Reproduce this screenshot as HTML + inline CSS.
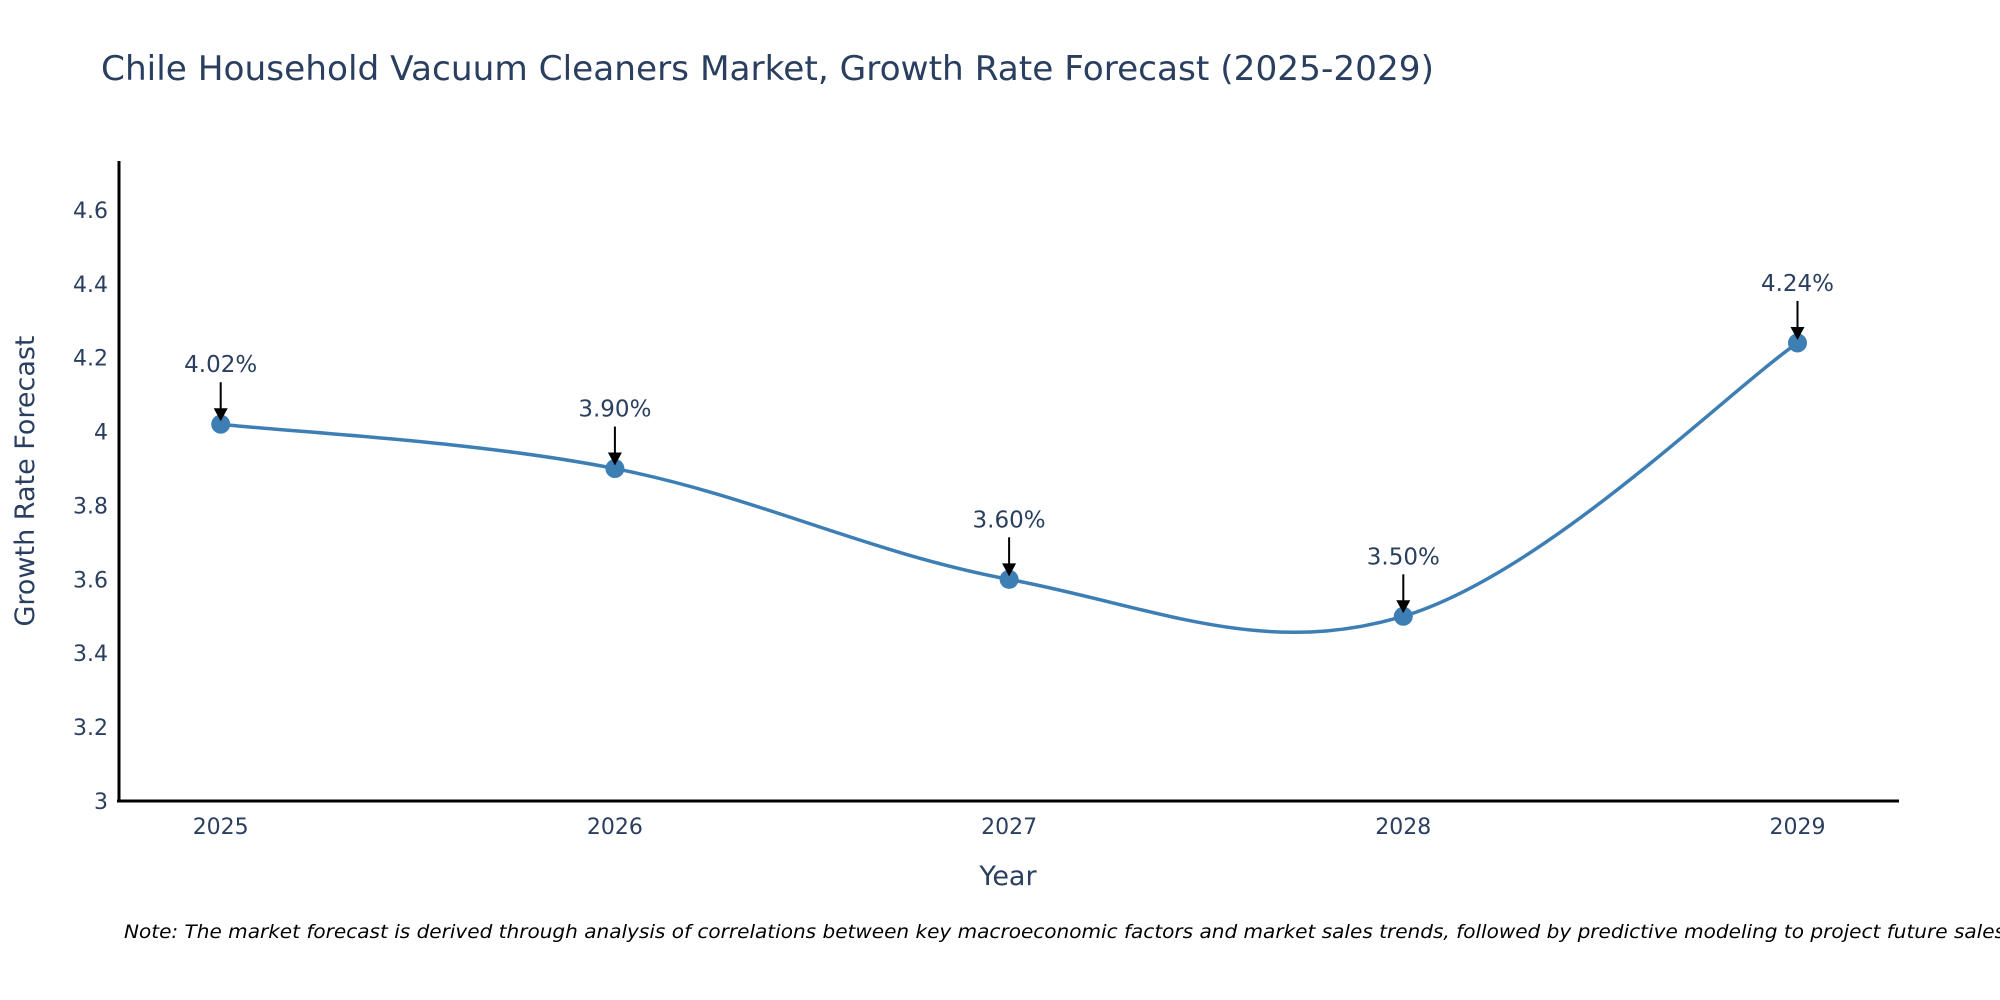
<!DOCTYPE html>
<html><head><meta charset="utf-8"><style>
body{margin:0;background:#fff;}
svg{display:block;font-family:"DejaVu Sans","Liberation Sans",sans-serif;}
</style></head><body>
<svg id="chart" width="2000" height="1000" viewBox="0 0 2000 1000">
<text x="101" y="80" font-size="34" fill="#2a3f5f" textLength="1333" lengthAdjust="spacingAndGlyphs">Chile Household Vacuum Cleaners Market, Growth Rate Forecast (2025-2029)</text>
<g id="yticks"></g>
<g id="xticks"></g>
<line x1="119" y1="161" x2="119" y2="802" stroke="#000" stroke-width="3"/>
<line x1="117" y1="801" x2="1899" y2="801" stroke="#000" stroke-width="3"/>
<text transform="translate(34,481) rotate(-90)" text-anchor="middle" font-size="27" fill="#2a3f5f">Growth Rate Forecast</text>
<text x="1008" y="885" text-anchor="middle" font-size="27" fill="#2a3f5f">Year</text>
<path id="line" fill="none" stroke="#3d7fb4" stroke-width="3.5"/>
<g id="marks"></g>
<text x="124" y="938" font-size="19" font-style="italic" fill="#000" textLength="1881" lengthAdjust="spacingAndGlyphs">Note: The market forecast is derived through analysis of correlations between key macroeconomic factors and market sales trends, followed by predictive modeling to project future sales</text>
</svg>
<script>
const years = ["2025","2026","2027","2028","2029"];
const values = [4.02, 3.90, 3.60, 3.50, 4.24];
const yTicks = [3, 3.2, 3.4, 3.6, 3.8, 4, 4.2, 4.4, 4.6];
const yTickLabels = ["3","3.2","3.4","3.6","3.8","4","4.2","4.4","4.6"];

const NS = "http://www.w3.org/2000/svg";
function xs(i){ return 220.7 + i * 394.2; }
function ys(v){ return 801 - (v - 3) * 369.4; }
function mk(tag, attrs, parent){
  const e = document.createElementNS(NS, tag);
  for (const k in attrs) e.setAttribute(k, attrs[k]);
  parent.appendChild(e);
  return e;
}
const yg = document.getElementById('yticks');
yTicks.forEach((v, i) => {
  const t = mk('text', {x: 108, y: ys(v) + 8, 'text-anchor': 'end', 'font-size': 22, fill: '#2a3f5f'}, yg);
  
  
  t.textContent = yTickLabels[i];
});
const xg = document.getElementById('xticks');
years.forEach((y, i) => {
  const t = mk('text', {x: xs(i), y: 834, 'text-anchor': 'middle', 'font-size': 22, fill: '#2a3f5f'}, xg);
  
  
  t.textContent = y;
});
const pts = values.map((v, i) => [xs(i), ys(v)]);
let d = `M${pts[0][0]},${pts[0][1]}`;
const tension = 0.18;
for (let i = 0; i < pts.length - 1; i++) {
  const p0 = pts[i - 1] || pts[i], p1 = pts[i], p2 = pts[i + 1], p3 = pts[i + 2] || p2;
  const c1 = [p1[0] + (p2[0] - p0[0]) * tension, p1[1] + (p2[1] - p0[1]) * tension];
  const c2 = [p2[0] - (p3[0] - p1[0]) * tension, p2[1] - (p3[1] - p1[1]) * tension];
  d += ` C${c1[0]},${c1[1]} ${c2[0]},${c2[1]} ${p2[0]},${p2[1]}`;
}
document.getElementById('line').setAttribute('d', d);
const mg = document.getElementById('marks');
pts.forEach((p, i) => {
  const c = mk('circle', {cx: p[0], cy: p[1], r: 9.5, fill: '#3d7fb4'}, mg);
  
  
  const ln = mk('line', {x1: p[0], y1: p[1] - 42, x2: p[0], y2: p[1] - 14, stroke: '#000', 'stroke-width': 2}, mg);
  
  
  const ah = mk('polygon', {points: `${p[0]-7},${p[1]-16} ${p[0]+7},${p[1]-16} ${p[0]},${p[1]-3}`, fill: '#000'}, mg);
  
  
  const t = mk('text', {x: p[0], y: p[1] - 52, 'text-anchor': 'middle', 'font-size': 23, fill: '#2a3f5f'}, mg);
  
  
  t.textContent = values[i].toFixed(2) + '%';
});
</script>
</body></html>
